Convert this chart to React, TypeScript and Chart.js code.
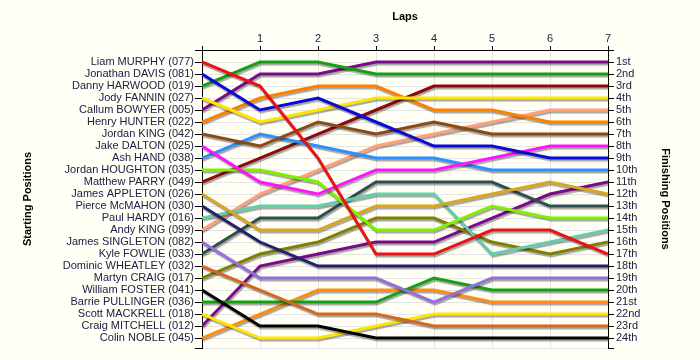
import React, { useEffect, useRef } from 'react';
import { Chart, registerables } from 'chart.js';
Chart.register(...registerables);

const laps = [0, 1, 2, 3, 4, 5, 6, 7];

const drivers = [
  'Liam MURPHY (077)', 'Jonathan DAVIS (081)', 'Danny HARWOOD (019)', 'Jody FANNIN (027)',
  'Callum BOWYER (005)', 'Henry HUNTER (022)', 'Jordan KING (042)', 'Jake DALTON (025)',
  'Ash HAND (038)', 'Jordan HOUGHTON (035)', 'Matthew PARRY (049)', 'James APPLETON (026)',
  'Pierce McMAHON (030)', 'Paul HARDY (016)', 'Andy KING (099)', 'James SINGLETON (082)',
  'Kyle FOWLIE (033)', 'Dominic WHEATLEY (032)', 'Martyn CRAIG (017)', 'William FOSTER (041)',
  'Barrie PULLINGER (036)', 'Scott MACKRELL (018)', 'Craig MITCHELL (012)', 'Colin NOBLE (045)',
];

const finishLabels = [
  '1st', '2nd', '3rd', '4th', '5th', '6th', '7th', '8th', '9th', '10th', '11th', '12th',
  '13th', '14th', '15th', '16th', '17th', '18th', '19th', '20th', '21st', '22nd', '23rd', '24th',
];

const colors = [
  '#e81414', '#0a0ad8', '#14a014', '#ffe600', '#7a0a8a', '#ff8000', '#8b4a14', '#ff14ff',
  '#2e90ff', '#80f000', '#8b0a0a', '#daa520', '#20206e', '#66cdaa', '#ffa07a', '#9370db',
  '#2f4f4f', '#d2691e', '#808000', '#000000', '#14a014', '#ffe600', '#7a0a8a', '#ff8c14',
];

const murphy = [1, 3, 9, 17, 17, 15, 15, 17];
const davis = [2, 5, 4, 6, 8, 8, 9, 9];
const harwood = [3, 1, 1, 2, 2, 2, 2, 2];
const fannin = [4, 6, 5, 4, 4, 4, 4, 4];
const bowyer = [5, 2, 2, 1, 1, 1, 1, 1];
const hunter = [6, 4, 3, 3, 5, 5, 6, 6];
const jking = [7, 8, 6, 7, 6, 7, 7, 7];
const dalton = [8, 11, 12, 10, 10, 9, 8, 8];
const hand = [9, 7, 8, 9, 9, 10, 10, 10];
const houghton = [10, 10, 11, 15, 15, 13, 14, 14];
const parry = [11, 9, 7, 5, 3, 3, 3, 3];
const appleton = [12, 15, 15, 13, 13, 12, 11, 12];
const mcmahon = [13, 16, 18, 18, 18, 18, 18, 18];
const hardy = [14, 13, 13, 12, 12, 17, 16, 15];
const aking = [15, 12, 10, 8, 7, 6, 5, 5];
const singleton = [16, 19, 19, 19, 21, 19, 19, 19];
const fowlie = [17, 14, 14, 11, 11, 11, 13, 13];
const wheatley = [18, 20, 22, 22, 23, 23, 23, 23];
const craig = [19, 17, 16, 14, 14, 16, 17, 16];
const foster = [20, 23, 23, 24, 24, 24, 24, 24];
const pullinger = [21, 21, 21, 21, 19, 20, 20, 20];
const mackrell = [22, 24, 24, 23, 22, 22, 22, 22];
const mitchell = [23, 18, 17, 16, 16, 14, 12, 11];
const noble = [24, 22, 20, 20, 20, 21, 21, 21];

const series = [
  murphy, davis, harwood, fannin, bowyer, hunter, jking, dalton, hand, houghton, parry, appleton,
  mcmahon, hardy, aking, singleton, fowlie, wheatley, craig, foster, pullinger, mackrell, mitchell, noble,
];

const yMax = 24.83;
const tickFont = { family: '"Liberation Sans", Arial, sans-serif', size: 11 };
const titleFont = { family: '"Liberation Sans", Arial, sans-serif', size: 11, weight: 'bold' as const };
const tickColor = '#20204a';
const gridColor = '#e4e4e4';

const yTickValues = [0, ...drivers.map((_, i) => i + 1), yMax];

const shadowPlugin = {
  id: 'lineShadow',
  beforeDatasetsDraw(chart: any) {
    const ctx = chart.ctx;
    ctx.save();
    ctx.shadowColor = 'rgba(0,0,0,0.35)';
    ctx.shadowOffsetX = 1;
    ctx.shadowOffsetY = 2;
    ctx.shadowBlur = 1;
  },
  afterDatasetsDraw(chart: any) {
    chart.ctx.restore();
  },
};

export default function App() {
  const ref = useRef<HTMLCanvasElement>(null);
  useEffect(() => {
    document.body.style.margin = '0';
    const chart = new Chart(ref.current as HTMLCanvasElement, {
      type: 'line',
      data: {
        datasets: series.map((s, i) => ({
          label: drivers[i],
          data: s.map((p, j) => ({ x: laps[j], y: p })),
          borderColor: colors[i],
          backgroundColor: colors[i],
          borderWidth: 3,
          pointRadius: 0,
          tension: 0,
          fill: false,
          yAxisID: 'y',
        })),
      },
      options: {
        animation: false,
        responsive: false,
        layout: { padding: { left: 0, right: 0, top: 0, bottom: 12 } },
        plugins: { legend: { display: false }, tooltip: { enabled: false } },
        scales: {
          x: {
            type: 'linear',
            position: 'top',
            min: 0,
            max: 7,
            afterFit: (s: any) => { s.height = 50; },
            afterBuildTicks: (s: any) => { s.ticks = laps.map((v) => ({ value: v })); },
            ticks: {
              autoSkip: false,
              padding: 0,
              color: tickColor,
              font: tickFont,
              callback: (v: any) => (v === 0 ? '' : String(v)),
            },
            grid: { color: gridColor, tickColor: '#000', tickLength: 4 },
            border: { color: '#000', width: 1 },
            title: { display: true, text: 'Laps', color: '#000', font: titleFont, padding: { top: 10, bottom: 0 } },
          },
          y: {
            type: 'linear',
            position: 'left',
            reverse: true,
            min: 0,
            max: yMax,
            afterFit: (s: any) => { s.width = 202; },
            afterBuildTicks: (s: any) => { s.ticks = yTickValues.map((v) => ({ value: v })); },
            ticks: {
              autoSkip: false,
              padding: 1,
              color: tickColor,
              font: tickFont,
              callback: (v: any) => (Number.isInteger(v) && v >= 1 && v <= drivers.length ? drivers[v - 1] : ''),
            },
            grid: { color: gridColor, tickColor: '#000', tickLength: 7 },
            border: { color: '#000', width: 1 },
            title: { display: true, text: 'Starting Positions', color: '#000', font: titleFont, padding: { top: 21, bottom: 0 } },
          },
          y2: {
            type: 'linear',
            position: 'right',
            reverse: true,
            min: 0,
            max: yMax,
            afterFit: (s: any) => { s.width = 92; },
            afterBuildTicks: (s: any) => { s.ticks = yTickValues.map((v) => ({ value: v })); },
            ticks: {
              autoSkip: false,
              padding: 2,
              color: tickColor,
              font: tickFont,
              callback: (v: any) => (Number.isInteger(v) && v >= 1 && v <= finishLabels.length ? finishLabels[v - 1] : ''),
            },
            grid: { drawOnChartArea: false, color: gridColor, tickColor: '#000', tickLength: 6 },
            border: { color: '#000', width: 1 },
            title: { display: true, text: 'Finishing Positions', color: '#000', font: titleFont, padding: { top: 28, bottom: 0 } },
          },
        },
      },
      plugins: [shadowPlugin],
    } as any);
    return () => chart.destroy();
  }, []);
  return (
    <div style={{ width: 700, height: 360, background: '#fffff6' }}>
      <canvas ref={ref} width={700} height={360} style={{ display: 'block' }} />
    </div>
  );
}
